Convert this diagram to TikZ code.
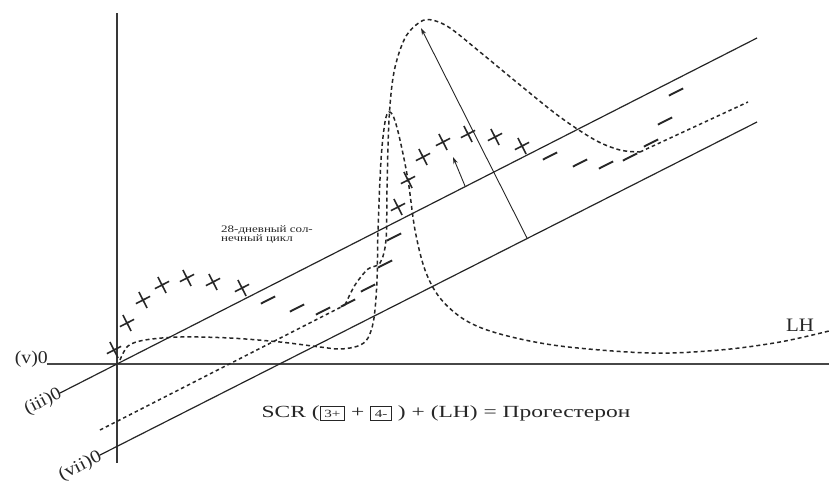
\documentclass[tikz,border=0pt]{standalone}
\usepackage{fontspec}
\setmainfont{Liberation Serif}
\usetikzlibrary{arrows.meta}
\newcommand{\bx}[1]{{\setlength{\fboxsep}{2.5pt}\setlength{\fboxrule}{0.9pt}\fbox{\fontsize{11}{11}\selectfont #1}}}
\begin{document}
\begin{tikzpicture}[x=1pt,y=-1pt,
  axisline/.style={draw=black!72, line width=2.4pt},
  vaxis/.style={draw=black!78, line width=1.6pt},
  solidline/.style={draw=black!85, line width=1.2pt},
  dotline/.style={draw=black!85, line width=1.5pt, dash pattern=on 3.5pt off 3pt},
  curve/.style={draw=black!85, line width=1.5pt, dash pattern=on 4pt off 3pt},
  arr/.style={draw=black!85, line width=0.9pt, -{Stealth[length=7pt,width=4.5pt]}},
  plusm/.pic={\draw[line width=1.6pt, black!85] (-8,0)--(8,0) (0,-9)--(0,9);},
  minusm/.pic={\draw[line width=1.9pt, black!85] (-8,0)--(8,0);},
  lbl/.style={font=\fontsize{18}{20}\selectfont, text=black!85, inner sep=0pt},
]
\useasboundingbox (0,0) rectangle (829,491);

% axes
\coordinate (vtop) at (117,13);
\coordinate (vbot) at (117,463);
\coordinate (hL) at (47,364);
\coordinate (hR) at (829,364);
\draw[vaxis] (vtop) -- (vbot);
\draw[axisline] (hL) -- (hR);

% parallel lines
\coordinate (iiiS) at (60,393);
\coordinate (iiiE) at (757,38);
\coordinate (viiS) at (100,455);
\coordinate (viiE) at (757,122);
\draw[solidline] (iiiS) -- (iiiE);
\draw[solidline] (viiS) -- (viiE);

% dotted middle line (two parts)
\coordinate (dS) at (100,430);
\coordinate (dM) at (345,305);
\coordinate (dR) at (640,152);
\coordinate (dE) at (748,102);
\draw[dotline] (dS) -- (dM);
\draw[dotline] (dR) -- (dE);

% big curve (progesterone)
\draw[curve] plot[smooth, tension=0.55] coordinates {(345,305) (355,285) (368,269) (380,263) (386,240) (387,190) (389,120) (394,72) (405,38) (420,22) (432,20) (450,28) (480,52) (520,85) (560,117) (595,140) (620,150) (640,152)};

% LH curve
\draw[curve] plot[smooth, tension=0.55] coordinates {(120,360) (128,346) (145,340) (180,337) (230,338) (280,342) (320,347) (340,349) (358,346) (368,338) (374,318) (377,280) (378,230) (381,160) (385,122) (389,112) (394,118) (400,140) (408,180) (415,230) (425,270) (440,298) (465,320) (500,334) (560,346) (650,353) (720,350) (780,342) (829,331)};

% plus signs
\foreach \p in {(114,350),(127,323),(143,300),(162,285),(187,278),(213,282),(242,288),
                (398,207),(408,180),(423,157),(443,142),(468,134),(495,137),(522,146)}
  \pic[rotate=27] at \p {plusm};
% minus signs
\foreach \p in {(268,300),(297,308),(323,311),(348,303),(368,288),(385,264),(394,237),
                (550,156),(580,163),(606,165),(630,157),(651,143),(665,121),(676,92)}
  \pic[rotate=27] at \p {minusm};

% arrows
\coordinate (a1s) at (527,238);
\coordinate (a1e) at (421,28);
\coordinate (a2s) at (465,186);
\coordinate (a2e) at (453,157);
\draw[arr] (a1s) -- (a1e);
\draw[arr] (a2s) -- (a2e);

% labels
\node[lbl, anchor=east] (v) at (48,359) {\scalebox{1.1}[1]{(v)0}};
\node[lbl, anchor=east, rotate=27] (iii) at (61,393) {\scalebox{1.1}[1]{(iii)0}};
\node[lbl, anchor=east, rotate=27] (vii) at (101,456) {\scalebox{1.15}[1]{(vii)0}};
\node[font=\fontsize{10}{9.5}\selectfont, align=left, anchor=north west, inner sep=0pt, text=black!85] (cyc) at (221,225) {\scalebox{1.3}[1]{28-дневный сол-}\\\scalebox{1.3}[1]{нечный цикл}};
\node[lbl, font=\fontsize{17}{19}\selectfont] (f) at (446,413) {\scalebox{1.38}[1]{SCR (\bx{3+} + \bx{4-} ) + (LH) = Прогестерон}};
\node[lbl, font=\fontsize{19}{21}\selectfont] (lh) at (800,325) {\scalebox{1.1}[1]{LH}};
\end{tikzpicture}
\end{document}
